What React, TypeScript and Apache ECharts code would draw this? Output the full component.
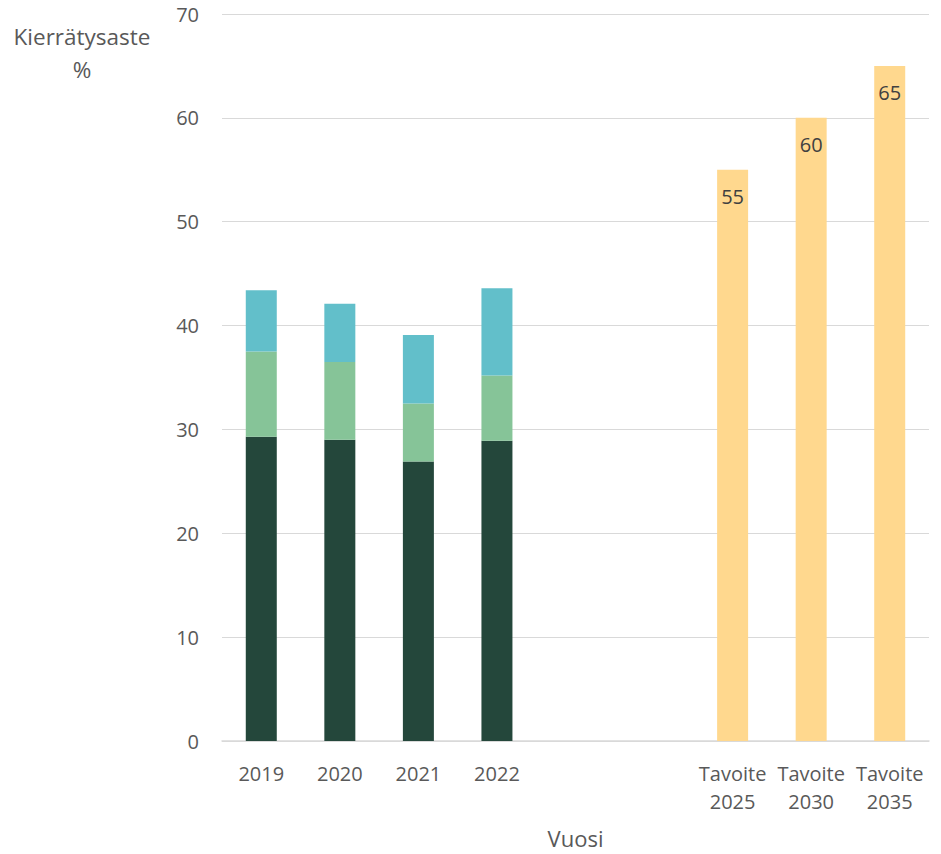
import React, { useEffect, useRef } from "react";
import * as echarts from "echarts";

const categories = ["2019", "2020", "2021", "2022", " ", "  ", "Tavoite\n2025", "Tavoite\n2030", "Tavoite\n2035"];
const darkValues = [29.3, 29.0, 26.9, 28.9, "-", "-", "-", "-", "-"];
const greenValues = [8.2, 7.5, 5.6, 6.3, "-", "-", "-", "-", "-"];
const blueValues = [5.9, 5.6, 6.6, 8.4, "-", "-", "-", "-", "-"];
const targetValues = ["-", "-", "-", "-", "-", "-", 55, 60, 65];
const yTicks = { min: 0, max: 70, interval: 10 };

const FONT = "Open Sans";

export default function App() {
  const ref = useRef<HTMLDivElement>(null);
  useEffect(() => {
    const chart = echarts.init(ref.current!, null, { renderer: "svg" });
    chart.setOption({
      animation: false,
      grid: { left: 222, right: 12, top: 14, bottom: 110, containLabel: false },
      xAxis: {
        type: "category",
        data: categories,
        axisLine: { show: true, lineStyle: { color: "#d9d9d9", width: 1.5 } },
        axisTick: { show: false },
        axisLabel: { color: "#595959", fontSize: 20, fontFamily: FONT, margin: 18, lineHeight: 28, interval: 0 },
        name: "Vuosi",
        nameLocation: "middle",
        nameGap: 86,
        nameTextStyle: { color: "#595959", fontSize: 22, fontFamily: FONT },
      },
      yAxis: {
        type: "value",
        min: yTicks.min,
        max: yTicks.max,
        interval: yTicks.interval,
        axisLine: { show: false },
        axisTick: { show: false },
        splitLine: { lineStyle: { color: "#d9d9d9", width: 1.2 } },
        axisLabel: { color: "#595959", fontSize: 20, fontFamily: FONT, margin: 23 },
      },
      graphic: [
        {
          type: "text",
          x: 82,
          y: 20,
          style: {
            text: "Kierrätysaste\n%",
            fill: "#595959",
            fontSize: 22.5,
            fontFamily: FONT,
            align: "center",
            lineHeight: 33,
          },
        },
      ],
      series: [
        { name: "a", type: "bar", stack: "s", barWidth: 31, data: darkValues, itemStyle: { color: "#24473b" } },
        { name: "b", type: "bar", stack: "s", barWidth: 31, data: greenValues, itemStyle: { color: "#86c498" } },
        { name: "c", type: "bar", stack: "s", barWidth: 31, data: blueValues, itemStyle: { color: "#62bfca" } },
        {
          name: "t",
          type: "bar",
          stack: "s",
          barWidth: 31,
          data: targetValues,
          itemStyle: { color: "#ffd88e" },
          label: {
            show: true,
            position: "insideTop",
            distance: 17,
            color: "#404040",
            fontSize: 20,
            fontFamily: FONT,
          },
        },
      ],
    });
    return () => chart.dispose();
  }, []);
  return <div ref={ref} style={{ width: 941, height: 854, position: "absolute", left: 0, top: 0 }} />;
}
